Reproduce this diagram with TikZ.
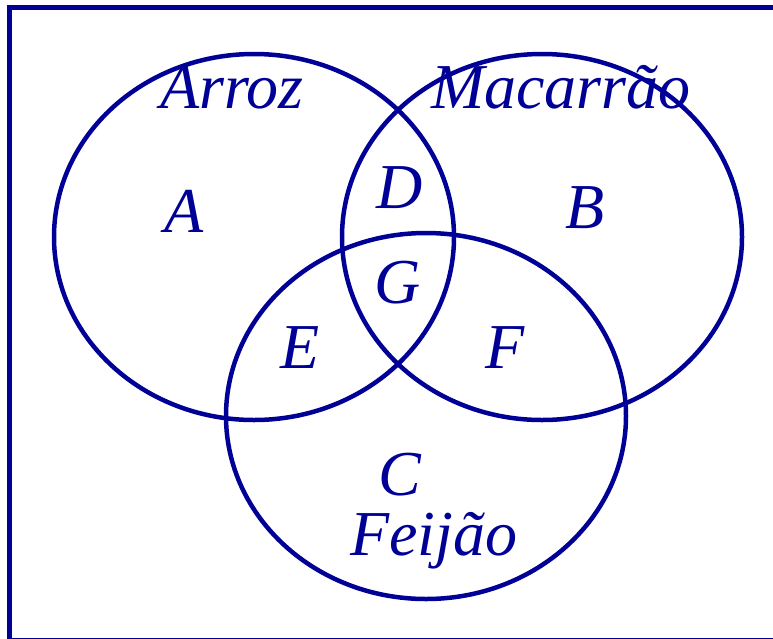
\documentclass[tikz,border=0pt]{standalone}
\usepackage{fontspec}
\setmainfont{Liberation Serif}
\usepackage{xcolor}
\usetikzlibrary{positioning}
\definecolor{vennblue}{RGB}{0,0,150}

\begin{document}
\begin{tikzpicture}[
    x=1pt, y=-1pt,
    setline/.style={draw=vennblue, line width=4.5pt},
    frameline/.style={draw=vennblue, line width=5pt},
    label/.style={text=vennblue, font=\fontsize{64}{66}\selectfont\itshape, anchor=base, inner sep=0pt}
]
    \useasboundingbox (0,0) rectangle (773,638);
    \draw[frameline] (9.5,7.5) rectangle (800,640);

    % the three sets
    \coordinate (arroz) at (254,237);
    \coordinate (macarrao) at (542,237);
    \coordinate (feijao) at (426,416);
    \draw[setline] (arroz) ellipse [x radius=200, y radius=183];
    \draw[setline] (macarrao) ellipse [x radius=200, y radius=183];
    \draw[setline] (feijao) ellipse [x radius=200, y radius=183];

    % set names
    \node[label] (nArroz) at (232,108) {Arroz};
    \node[label] (nMacarrao) at (561,108) {Macarrão};
    \node[label] (nFeijao) at (434,555) {Feijão};

    % regions
    \node[label] (rA) at (184,232) {A};
    \node[label] (rB) at (585,228) {B};
    \node[label] (rC) at (400,495) {C};
    \node[label] (rD) at (400,208) {D};
    \node[label] (rE) at (300,368) {E};
    \node[label] (rF) at (505,368) {F};
    \node[label] (rG) at (398,303) {G};
\end{tikzpicture}
\end{document}
